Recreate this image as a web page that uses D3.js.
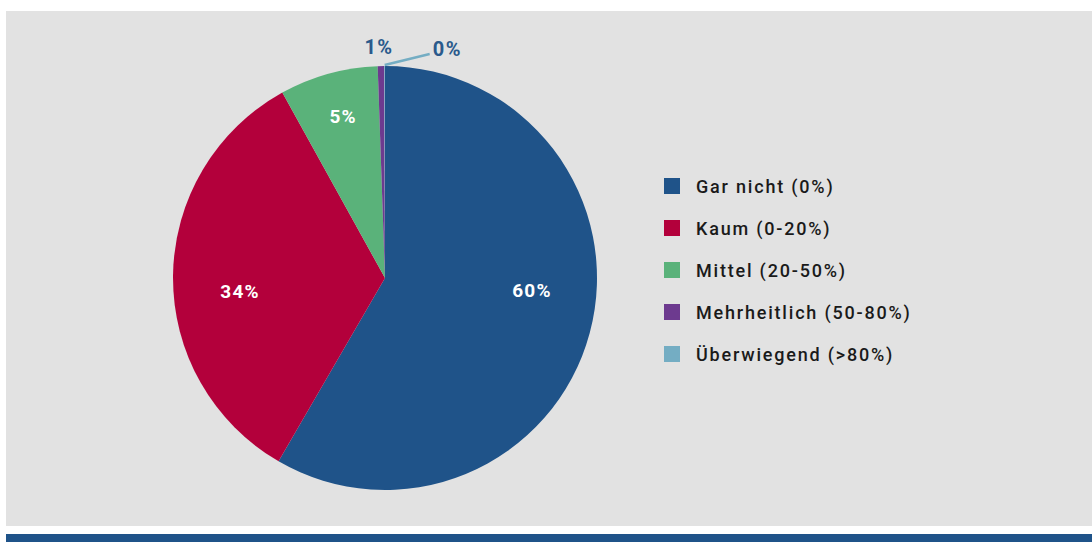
<!DOCTYPE html>
<html>
<head>
<meta charset="utf-8">
<script src="https://cdn.jsdelivr.net/npm/d3@7"></script>
<style>
  body { margin: 0; background: #fff; }
  svg text { font-family: "Roboto", "DejaVu Sans", sans-serif; }
</style>
</head>
<body>
<div id="chart"></div>
<script>
// Data
var categories = ["Gar nicht (0%)", "Kaum (0-20%)", "Mittel (20-50%)", "Mehrheitlich (50-80%)", "Überwiegend (>80%)"];
var shares = [58.4, 33.6, 7.5, 0.5, 0.05];
var pctLabels = ["60%", "34%", "5%", "1%", "0%"];
var colors = ["#1f5389", "#b3003b", "#5ab27a", "#6d3a8f", "#74adc3"];

var svgWidth = 1092;
var svgHeight = 542;

var svg = d3.select("#chart")
    .append("svg")
    .attr("width", svgWidth)
    .attr("height", svgHeight);

// grey panel + blue footer strip
svg.append("rect")
    .attr("x", 6).attr("y", 11)
    .attr("width", svgWidth - 6).attr("height", 515)
    .attr("fill", "#e2e2e2");

svg.append("rect")
    .attr("x", 6).attr("y", 534)
    .attr("width", svgWidth - 6).attr("height", 8)
    .attr("fill", "#1f5389");

var cx = 385, cy = 278, radius = 212;

var pieData = d3.pie().sort(null).value(d => d)(shares);
var arc = d3.arc().innerRadius(0).outerRadius(radius);

var pieGroup = svg.append("g")
    .attr("transform", `translate(${cx}, ${cy})`);

pieGroup.selectAll("path")
    .data(pieData)
    .enter()
    .append("path")
    .attr("d", arc)
    .attr("fill", (d, i) => colors[i]);

// inside labels for the three big slices
var labelRadius = [147, 146, 168];
var labelNudge = [[5, -26], [1, 15], [3, 0]];

pieGroup.selectAll("text.inner")
    .data(pieData.slice(0, 3))
    .enter()
    .append("text")
    .attr("class", "inner")
    .attr("x", (d, i) => d3.arc().innerRadius(labelRadius[i]).outerRadius(labelRadius[i]).centroid(d)[0] + labelNudge[i][0])
    .attr("y", (d, i) => d3.arc().innerRadius(labelRadius[i]).outerRadius(labelRadius[i]).centroid(d)[1] + labelNudge[i][1])
    .attr("text-anchor", "middle")
    .attr("dominant-baseline", "central")
    .attr("fill", "#fff")
    .attr("font-weight", "bold")
    .attr("font-size", 19)
    .attr("letter-spacing", 1.2)
    .text((d, i) => pctLabels[i]);

// outside labels for the two tiny slices
var outerArc = d3.arc().innerRadius(radius).outerRadius(radius);

var purple = pieData[3];
var pPos = outerArc.centroid(purple);
pieGroup.append("text")
    .attr("x", pPos[0] - 2)
    .attr("y", pPos[1] - 19)
    .attr("text-anchor", "middle")
    .attr("dominant-baseline", "central")
    .attr("fill", "#2a5a8c")
    .attr("font-weight", "bold")
    .attr("font-size", 20)
    .attr("letter-spacing", 1.5)
    .text(pctLabels[3]);

var last = pieData[4];
var lPos = outerArc.centroid(last);
pieGroup.append("line")
    .attr("x1", lPos[0]).attr("y1", lPos[1] - 1)
    .attr("x2", lPos[0] + 45).attr("y2", lPos[1] - 12)
    .attr("stroke", "#74adc3")
    .attr("stroke-width", 2.5);

pieGroup.append("text")
    .attr("x", lPos[0] + 48)
    .attr("y", lPos[1] - 17)
    .attr("text-anchor", "start")
    .attr("dominant-baseline", "central")
    .attr("fill", "#2a5a8c")
    .attr("font-weight", "bold")
    .attr("font-size", 20)
    .attr("letter-spacing", 1.5)
    .text(pctLabels[4]);

// legend
var legend = svg.append("g")
    .attr("transform", "translate(664, 186)");

var rows = legend.selectAll("g")
    .data(categories)
    .enter()
    .append("g")
    .attr("transform", (d, i) => `translate(0, ${i * 42})`);

rows.append("rect")
    .attr("x", 0).attr("y", -8)
    .attr("width", 16).attr("height", 16)
    .attr("fill", (d, i) => colors[i]);

rows.append("text")
    .attr("x", 32)
    .attr("y", 0)
    .attr("dominant-baseline", "central")
    .attr("fill", "#1a1a1a")
    .attr("font-size", 18)
    .attr("font-weight", 500)
    .attr("letter-spacing", 1.8)
    .text(d => d);
</script>
</body>
</html>
